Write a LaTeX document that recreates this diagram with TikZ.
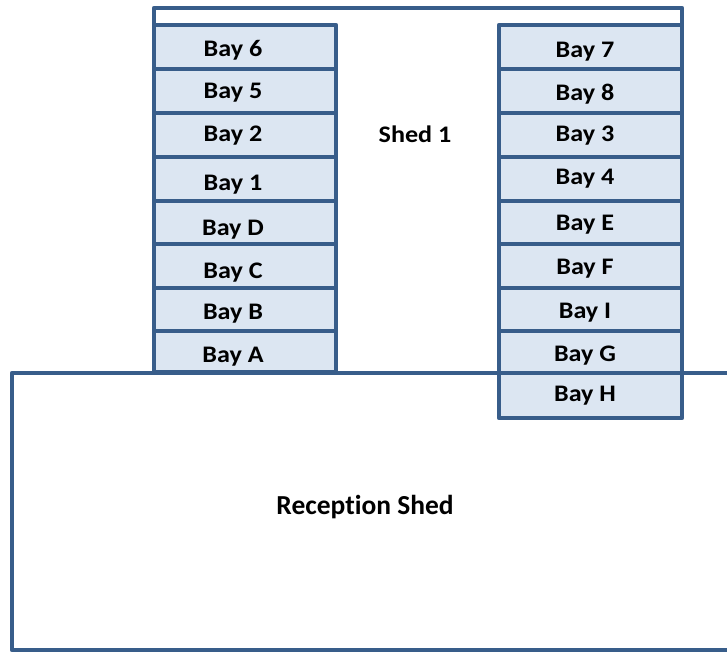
\documentclass[tikz,border=0pt]{standalone}
\usepackage{graphicx}
\usepackage{fontspec}
\setmainfont{Carlito}[Ligatures=NoCommon]
\definecolor{shedline}{RGB}{56,93,138}
\definecolor{bayfill}{RGB}{220,230,242}
\newcommand{\baytext}[1]{\scalebox{1.1}[1]{#1}}
\begin{document}
\begin{tikzpicture}[x=0.75pt,y=-0.75pt,
  wall/.style={draw=shedline,line width=3.4pt,line join=round},
  baybox/.style={wall,fill=bayfill,inner sep=0pt,outer sep=0pt},
  lbay/.style={baybox,minimum width=136.5pt},
  rbay/.style={baybox,minimum width=137.25pt},
  baylabel/.style={font=\fontsize{17.8}{20}\selectfont\bfseries,inner sep=0pt,anchor=base}]
\useasboundingbox (0,0) rectangle (727,652);
\clip (0,0) rectangle (727,652);
% reception shed outline (runs off the right edge)
\draw[wall] (760,373) -- (12,373) -- (12,650) -- (760,650);
% shed 1 outline
\draw[wall] (154,373) -- (154,8) -- (682,8) -- (682,373);
% left column boxes
\node[lbay,minimum height=33pt] (b6) at (245,47) {};
\node[lbay,minimum height=33pt] (b5) at (245,91) {};
\node[lbay,minimum height=33pt] (b2) at (245,135) {};
\node[lbay,minimum height=33pt] (b1) at (245,179) {};
\node[lbay,minimum height=32.25pt] (bD) at (245,222.5) {};
\node[lbay,minimum height=33pt] (bC) at (245,266) {};
\node[lbay,minimum height=32.25pt] (bB) at (245,309.5) {};
\node[lbay,minimum height=30.75pt] (bA) at (245,351.5) {};
% right column boxes
\node[rbay,minimum height=33pt] (b7) at (590.5,47) {};
\node[rbay,minimum height=33pt] (b8) at (590.5,91) {};
\node[rbay,minimum height=33pt] (b3) at (590.5,135) {};
\node[rbay,minimum height=33pt] (b4) at (590.5,179) {};
\node[rbay,minimum height=32.25pt] (bE) at (590.5,222.5) {};
\node[rbay,minimum height=33pt] (bF) at (590.5,266) {};
\node[rbay,minimum height=32.25pt] (bI) at (590.5,309.5) {};
\node[rbay,minimum height=31.5pt] (bG) at (590.5,352) {};
\node[rbay,minimum height=33.75pt] (bH) at (590.5,395.5) {};
% left column labels
\node[baylabel] (t6) at (233,56.5) {\baytext{Bay 6}};
\node[baylabel] (t5) at (233,98.5) {\baytext{Bay 5}};
\node[baylabel] (t2) at (233,141.5) {\baytext{Bay 2}};
\node[baylabel] (t1) at (233,190.5) {\baytext{Bay 1}};
\node[baylabel] (tD) at (233,235.5) {\baytext{Bay D}};
\node[baylabel] (tC) at (233,278.5) {\baytext{Bay C}};
\node[baylabel] (tB) at (233,319.5) {\baytext{Bay B}};
\node[baylabel] (tA) at (233,362.5) {\baytext{Bay A}};
% right column labels
\node[baylabel] (t7) at (585,57.5) {\baytext{Bay 7}};
\node[baylabel] (t8) at (585,100.5) {\baytext{Bay 8}};
\node[baylabel] (t3) at (585,141.5) {\baytext{Bay 3}};
\node[baylabel] (t4) at (585,184.5) {\baytext{Bay 4}};
\node[baylabel] (tE) at (585,230.5) {\baytext{Bay E}};
\node[baylabel] (tF) at (585,274.5) {\baytext{Bay F}};
\node[baylabel] (tI) at (585,318.5) {\baytext{Bay I}};
\node[baylabel] (tG) at (585,361.5) {\baytext{Bay G}};
\node[baylabel] (tH) at (585,401.5) {\baytext{Bay H}};
% shed labels
\node[baylabel] (shed1) at (415,143) {\baytext{Shed 1}};
\node[baylabel,font=\fontsize{20.6}{24}\selectfont\bfseries] (reception) at (365,514) {Reception Shed};
\end{tikzpicture}
\end{document}
